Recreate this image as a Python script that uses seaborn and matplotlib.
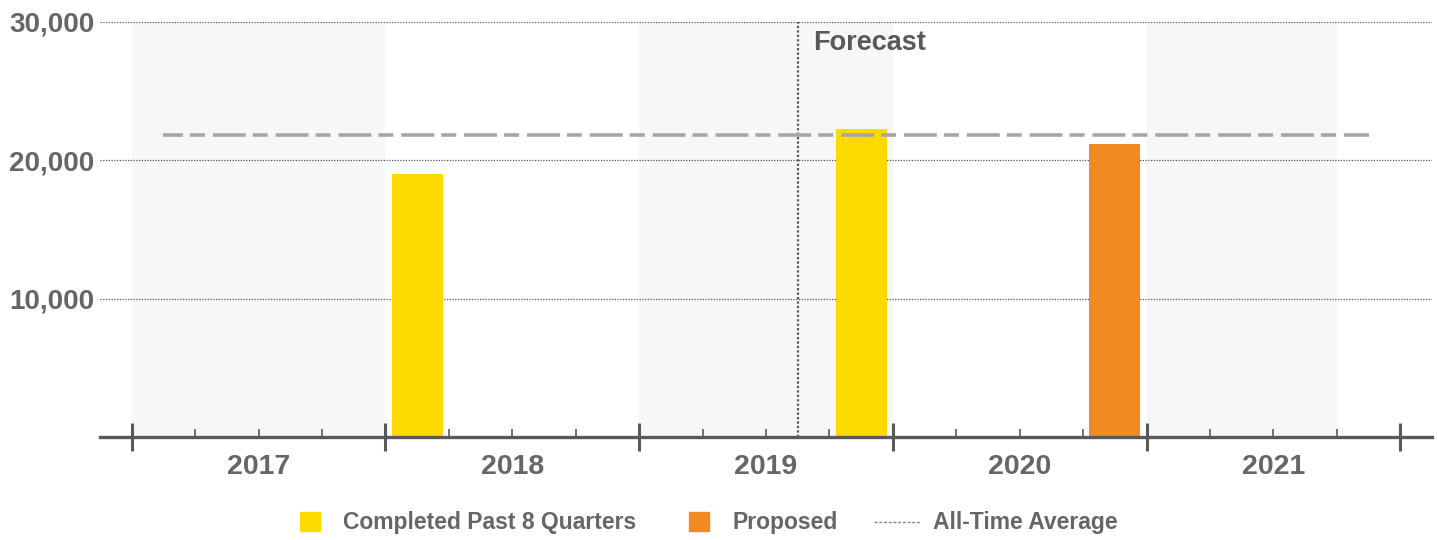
import matplotlib
matplotlib.use("Agg")
import matplotlib.pyplot as plt
from matplotlib.lines import Line2D
from matplotlib.patches import Patch
from matplotlib.legend_handler import HandlerBase
import matplotlib.transforms as mtransforms
import seaborn as sns
import pandas as pd

# ---- data -------------------------------------------------------------
years = [2017, 2018, 2019, 2020, 2021]
quarter_names = ["Q1", "Q2", "Q3", "Q4"]
quarters = [f"{y} {q}" for y in years for q in quarter_names]

bar_quarters = ["2018 Q1", "2019 Q4", "2020 Q4"]
bar_values = [19000, 22300, 21200]
bar_status = ["Completed Past 8 Quarters", "Completed Past 8 Quarters", "Proposed"]

average_value = 21800
average_span = ["2017 Q1", "2021 Q4"]
forecast_quarter = "2019 Q3"
shaded_years = {2017: ("2017 Q1", "2017 Q4"), 2019: ("2019 Q1", "2019 Q4"),
                2021: ("2021 Q1", "2021 Q3")}

y_ticks = [10000, 20000, 30000]
y_tick_labels = ["10,000", "20,000", "30,000"]

# ---- style ------------------------------------------------------------
YELLOW = "#FFDA00"
ORANGE = "#F18B21"
TEXT = "#666666"
AXIS = "#595959"
AVG = "#A6A6A8"
BAND = "#F7F7F8"
YEAR_SIZE, LEGEND_SIZE = 20.5, 16.5

sns.set_theme(style="white")
plt.rcParams["font.family"] = ["Liberation Sans", "DejaVu Sans"]

df = pd.DataFrame({"quarter": bar_quarters, "value": bar_values, "status": bar_status})

fig, ax = plt.subplots(figsize=(14.37, 5.4), dpi=100)
fig.subplots_adjust(left=0.0696, right=0.9965, bottom=0.1907, top=0.9593)

pos = {q: i for i, q in enumerate(quarters)}

# alternating year bands
for y, (q0, q1) in shaded_years.items():
    ax.axvspan(pos[q0] - 0.5, pos[q1] + 0.5, color=BAND, zorder=0, lw=0)

sns.barplot(data=df, x="quarter", y="value", hue="status", order=quarters,
            palette={"Completed Past 8 Quarters": YELLOW, "Proposed": ORANGE},
            dodge=False, width=0.8, saturation=1, legend=False, linewidth=0,
            ax=ax, zorder=1)

# all-time average
ax.plot([pos[average_span[0]], pos[average_span[1]]], [average_value, average_value],
        color=AVG, lw=2.6, solid_capstyle="butt", dash_capstyle="butt",
        linestyle=(3.6, (9.1, 1.95, 4.15, 2.2)), zorder=3)

# forecast marker
ax.axvline(pos[forecast_quarter], color=AXIS, lw=1.6, linestyle=(0, (1, 1)), zorder=2)
ax.text(pos[forecast_quarter] + 0.24, 28500, "Forecast", fontsize=19.5,
        fontweight="bold", color=AXIS, ha="left", va="center")

ax.set_xlim(-1.0, 20.0)
ax.set_ylim(0, 30000)
ax.set_xlabel("")
ax.set_ylabel("")

# y axis
ax.set_yticks(y_ticks)
ax.set_yticklabels(y_tick_labels, fontsize=20, fontweight="bold", color=TEXT)
ax.tick_params(axis="y", length=0, pad=4)
ax.yaxis.grid(True, color="#555555", lw=0.9, linestyle=(0, (1, 1.2)))
ax.xaxis.grid(False)
ax.set_axisbelow(True)

# x axis: year boundaries and quarter ticks
year_edges = [pos[f"{y} Q1"] - 0.5 for y in years] + [pos[quarters[-1]] + 0.5]
quarter_edges = [pos[q] - 0.5 for q in quarters if not q.endswith("Q1")]
ax.set_xticks(year_edges)
ax.set_xticks(quarter_edges, minor=True)
ax.set_xticklabels([""] * len(year_edges))
ax.tick_params(axis="x", which="major", direction="inout", length=20, width=2.2,
               color=AXIS, bottom=True, labelbottom=False)
ax.tick_params(axis="x", which="minor", direction="in", length=5.5, width=1.2,
               color=AXIS, bottom=True)

for s in ["left", "top", "right"]:
    ax.spines[s].set_visible(False)
ax.spines["bottom"].set_color(AXIS)
ax.spines["bottom"].set_linewidth(2.4)

trans = mtransforms.blended_transform_factory(ax.transData, ax.transAxes)
for y in years:
    ax.text(pos[f"{y} Q1"] + 1.5, -0.072, str(y), transform=trans, ha="center",
            va="center", fontsize=YEAR_SIZE, fontweight="bold", color=TEXT)


# ---- legend -----------------------------------------------------------
class DashSample(HandlerBase):
    def create_artists(self, legend, orig_handle, xdescent, ydescent, width,
                       height, fontsize, trans):
        yc = height / 2 - ydescent
        line = Line2D([-xdescent - 11.5, width - xdescent + 8.0], [yc, yc],
                      color="#8C8C8C", lw=1.0, linestyle=(0, (2.2, 1.2)))
        line.set_transform(trans)
        return [line]


handles = [Patch(color=YELLOW), Patch(color=ORANGE), Line2D([], [])]
labels = ["Completed Past 8 Quarters", "Proposed", "All-Time Average"]
fig.legend(handles, labels, loc="center", bbox_to_anchor=(0.4934, 0.0315), ncol=3,
           frameon=False, handlelength=14.4 / LEGEND_SIZE, handleheight=14.4 / LEGEND_SIZE,
           handletextpad=16.6 / LEGEND_SIZE, columnspacing=38.0 / LEGEND_SIZE,
           handler_map={handles[2]: DashSample()},
           prop=dict(weight="bold", size=LEGEND_SIZE),
           labelcolor=TEXT)

fig.savefig("out.png", dpi=100)
